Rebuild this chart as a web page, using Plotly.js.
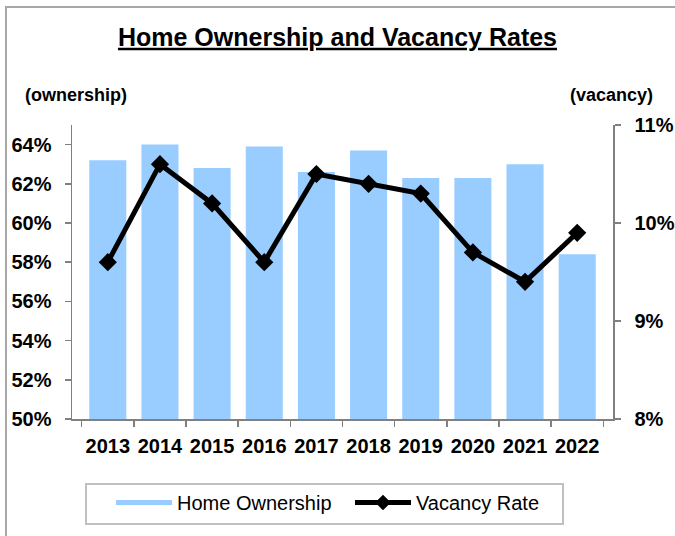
<!DOCTYPE html>
<html>
<head>
<meta charset="utf-8">
<script src="https://cdn.plot.ly/plotly-3.0.1.min.js"></script>
<style>
  html, body { margin: 0; padding: 0; background: #fff; }
  #wrap { position: relative; width: 675px; height: 536px; overflow: hidden; }
  #chart { position: absolute; left: 0; top: 0; width: 675px; height: 536px; }
  #frame { position: absolute; left: 5px; top: 6px; width: 720px; height: 600px;
           border-left: 2px solid #a8a8a8; border-top: 2px solid #a8a8a8; pointer-events: none; }
</style>
</head>
<body>
<div id="wrap">
  <div id="chart"></div>
  <div id="frame"></div>
</div>
<script>
const years = ['2013','2014','2015','2016','2017','2018','2019','2020','2021','2022'];
const ownership = [63.2, 64.0, 62.8, 63.9, 62.6, 63.7, 62.3, 62.3, 63.0, 58.4];
const vacancy = [9.6, 10.6, 10.2, 9.6, 10.5, 10.4, 10.3, 9.7, 9.4, 9.9];
const leftTicks = [50, 52, 54, 56, 58, 60, 62, 64];
const rightTicks = [8, 9, 10, 11];

const FONT = '"Liberation Sans", Arial, sans-serif';
const BAR_COLOR = '#99ccff';

// plot area in pixels (for converting layout positions to paper coords)
const PL = 72, PR = 613, PT = 125, PB = 419;
const px = v => (v - PL) / (PR - PL);
const py = v => 1 - (v - PT) / (PB - PT);

const traces = [
  {
    type: 'bar', x: years, y: ownership, name: 'Home Ownership',
    marker: { color: BAR_COLOR }, yaxis: 'y', showlegend: false, legendgroup: 'own'
  },
  {
    // legend swatch for the bars (wide rectangle like the original)
    type: 'scatter', mode: 'lines', x: [null], y: [null], name: 'Home Ownership',
    line: { color: BAR_COLOR, width: 11 }, yaxis: 'y', legendgroup: 'own', hoverinfo: 'skip'
  },
  {
    type: 'scatter', mode: 'lines+markers', x: years, y: vacancy, name: 'Vacancy Rate',
    line: { color: '#000000', width: 5 },
    marker: { symbol: 'diamond', size: 14, color: '#000000' },
    yaxis: 'y2'
  }
];

const axisCommon = {
  ticks: 'outside', ticklen: 6, tickcolor: '#808080', tickwidth: 1.5,
  showline: true, linecolor: '#808080', linewidth: 1.5,
  showgrid: false, zeroline: false,
  tickfont: { family: FONT, size: 20, weight: 'bold', color: '#000' }
};

const layout = {
  width: 675, height: 536,
  margin: { l: PL, r: 675 - PR, t: PT, b: 536 - PB },
  paper_bgcolor: '#ffffff', plot_bgcolor: '#ffffff',
  font: { family: FONT, color: '#000000', size: 20 },
  bargap: 0.29,
  showlegend: true,
  title: {
    text: '<b><u>Home Ownership and Vacancy Rates</u></b>',
    font: { family: FONT, size: 25, color: '#000000' },
    x: 0.5, xref: 'container', xanchor: 'center',
    y: 1 - 37 / 536, yref: 'container', yanchor: 'middle'
  },
  xaxis: Object.assign({}, axisCommon, {
    type: 'category', tickson: 'boundaries', tickangle: 0, ticklabelstandoff: 8
  }),
  yaxis: Object.assign({}, axisCommon, {
    range: [50, 65], tickvals: leftTicks, ticktext: leftTicks.map(v => v + '%'),
    ticklabelstandoff: 9
  }),
  yaxis2: Object.assign({}, axisCommon, {
    overlaying: 'y', side: 'right',
    range: [8, 11], tickvals: rightTicks, ticktext: rightTicks.map(v => v + '%'),
    ticklabelstandoff: 10
  }),
  legend: {
    orientation: 'h',
    x: px(111), xanchor: 'left',
    y: py(483), yanchor: 'top',
    borderwidth: 0, bgcolor: 'rgba(0,0,0,0)',
    font: { family: FONT, size: 20, color: '#000' },
    itemwidth: 56, entrywidth: 168, entrywidthmode: 'pixels',
    itemsizing: 'constant',
    traceorder: 'normal'
  },
  shapes: [
    { type: 'rect', xref: 'paper', yref: 'paper',
      x0: px(86), x1: px(563), y0: py(524), y1: py(484),
      line: { color: '#c0c0c0', width: 2 }, fillcolor: 'rgba(0,0,0,0)', layer: 'below' }
  ],
  annotations: [
    { text: '<b>(ownership)</b>', xref: 'paper', yref: 'paper',
      x: px(23), xanchor: 'left', y: py(95), yanchor: 'middle',
      showarrow: false, font: { family: FONT, size: 18, color: '#000' } },
    { text: '<b>(vacancy)</b>', xref: 'paper', yref: 'paper',
      x: px(655), xanchor: 'right', y: py(95), yanchor: 'middle',
      showarrow: false, font: { family: FONT, size: 18, color: '#000' } }
  ]
};

Plotly.newPlot('chart', traces, layout, { displayModeBar: false, staticPlot: true });
</script>
</body>
</html>
